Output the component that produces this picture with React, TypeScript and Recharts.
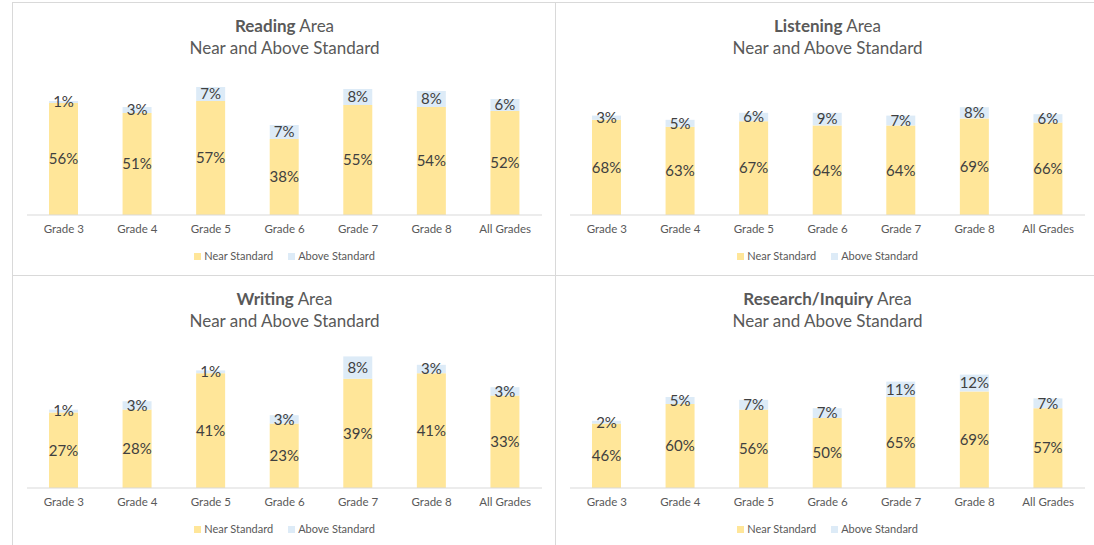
import React from "react";
import { BarChart, Bar, XAxis, YAxis, LabelList } from "recharts";

const categories = ["Grade 3", "Grade 4", "Grade 5", "Grade 6", "Grade 7", "Grade 8", "All Grades"];

const readingNear = [56, 51, 57, 38, 55, 54, 52];
const readingAbove = [1, 3, 7, 7, 8, 8, 6];
const listeningNear = [68, 63, 67, 64, 64, 69, 66];
const listeningAbove = [3, 5, 6, 9, 7, 8, 6];
const writingNear = [27, 28, 41, 23, 39, 41, 33];
const writingAbove = [1, 3, 1, 3, 8, 3, 3];
const researchNear = [46, 60, 56, 50, 65, 69, 57];
const researchAbove = [2, 5, 7, 7, 11, 12, 7];

const seriesNames = ["Near Standard", "Above Standard"];
const seriesColors = ["#FFE699", "#DDEBF7"];

const FONT = "Lato, 'Noto Sans', sans-serif";
const PANEL_W = 543;
const PANEL_H = 273;

function buildData(near: number[], above: number[]) {
  return categories.map((c, i) => ({ name: c, near: near[i], above: above[i] }));
}

function Panel(props: {
  left: number;
  top: number;
  bold: string;
  rest: string;
  near: number[];
  above: number[];
  max: number;
}) {
  const data = buildData(props.near, props.above);
  return (
    <div
      style={{
        position: "absolute",
        left: props.left,
        top: props.top,
        width: PANEL_W,
        height: PANEL_H,
        borderLeft: "1px solid #D9D9D9",
        borderTop: "1px solid #D9D9D9",
        boxSizing: "border-box",
        background: "#fff",
        fontFamily: FONT,
      }}
    >
      <div
        style={{
          position: "absolute",
          left: 0,
          top: 12,
          width: PANEL_W,
          textAlign: "center",
          color: "#595959",
          fontSize: 17,
          lineHeight: "22px",
        }}
      >
        <div>
          <span style={{ fontWeight: 700 }}>{props.bold}</span> {props.rest}
        </div>
        <div>Near and Above Standard</div>
      </div>
      <div style={{ position: "absolute", left: 0, top: 0 }}>
        <BarChart
          width={PANEL_W}
          height={PANEL_H}
          data={data}
          margin={{ top: 72, right: 14, left: 14, bottom: 31 }}
        >
          <XAxis
            dataKey="name"
            height={30}
            axisLine={{ stroke: "#D9D9D9" }}
            tickLine={false}
            interval={0}
            tick={{ fill: "#595959", fontSize: 11.5, fontFamily: FONT }}
            tickMargin={4}
          />
          <YAxis hide domain={[0, props.max]} />
          <Bar dataKey="near" stackId="a" fill={seriesColors[0]} barSize={29} isAnimationActive={false}>
            <LabelList
              dataKey="near"
              position="center"
              formatter={(v: any) => `${v}%`}
              style={{ fill: "#404040", fontSize: 15, fontFamily: FONT }}
            />
          </Bar>
          <Bar dataKey="above" stackId="a" fill={seriesColors[1]} barSize={29} isAnimationActive={false}>
            <LabelList
              dataKey="above"
              position="center"
              formatter={(v: any) => `${v}%`}
              style={{ fill: "#404040", fontSize: 15, fontFamily: FONT }}
            />
          </Bar>
        </BarChart>
      </div>
      <div
        style={{
          position: "absolute",
          left: 0,
          top: 245,
          width: PANEL_W,
          display: "flex",
          justifyContent: "center",
          fontSize: 11,
          color: "#595959",
          lineHeight: "16px",
        }}
      >
        {seriesNames.map((n, i) => (
          <div key={n} style={{ display: "flex", alignItems: "center", marginLeft: i ? 15 : 0 }}>
            <span
              style={{ width: 7, height: 7, background: seriesColors[i], display: "inline-block", marginRight: 3 }}
            />
            <span>{n}</span>
          </div>
        ))}
      </div>
    </div>
  );
}

export default function App() {
  return (
    <div style={{ position: "absolute", left: 0, top: 0, width: 1094, height: 545, background: "#fff", overflow: "hidden" }}>
      <Panel left={12} top={2} bold="Reading" rest="Area" near={readingNear} above={readingAbove} max={70} />
      <Panel left={555} top={2} bold="Listening" rest="Area" near={listeningNear} above={listeningAbove} max={100} />
      <Panel left={12} top={275} bold="Writing" rest="Area" near={writingNear} above={writingAbove} max={50} />
      <Panel left={555} top={275} bold="Research/Inquiry" rest="Area" near={researchNear} above={researchAbove} max={100} />
    </div>
  );
}
